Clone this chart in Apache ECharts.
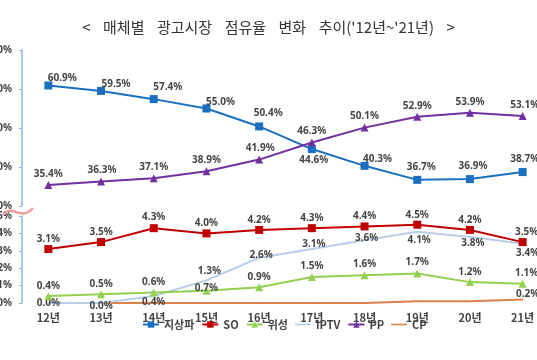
<!DOCTYPE html>
<html><head><meta charset="utf-8">
<script src="https://cdn.jsdelivr.net/npm/echarts@6/dist/echarts.min.js"></script>
<style>html,body{margin:0;padding:0;background:#fff}#c{width:537px;height:360px}</style>
</head><body><div id="c"></div>
<script>
const categories = ['12년','13년','14년','15년','16년','17년','18년','19년','20년','21년'];
const terrestrial = [60.9,59.5,57.4,55.0,50.4,44.6,40.3,36.7,36.9,38.7];
const pp = [35.4,36.3,37.1,38.9,41.9,46.3,50.1,52.9,53.9,53.1];
const so = [3.1,3.5,4.3,4.0,4.2,4.3,4.4,4.5,4.2,3.5];
const satellite = [0.4,0.5,0.6,0.7,0.9,1.5,1.6,1.7,1.2,1.1];
const iptv = [0.0,0.0,0.4,1.3,2.6,3.1,3.6,4.1,3.8,3.4];
const cp = [0.0,0.0,0.0,0.0,0.0,0.0,0.0,0.1,0.1,0.2];

// label placement (style only)
const offTerr = [[14,-7],[15,-7],[14,-12],[14,-6],[9,-13],[2,11],[13,-7],[4,-13],[3,-13],[2,-13]];
const offPP = [[0,-11],[1,-11],[0,-11],[0,-11],[1,-11],[0,-11],[0,-11],[0,-11],[0,-11],[2,-11]];
const offSO = [[0,-10],[0,-10],[0,-11],[0,-10],[0,-10],[0,-10],[0,-10],[0,-10],[0,-10],[4,-10]];
const offSat = [[0,-10],[0,-10],[0,-10],[0,-3],[0,-10],[0,-11],[0,-11],[0,-11],[0,-10],[4,-11]];
const offIptv = [[0,0],[0,3],[0,6],[3,-9],[2,-3],[2,-5],[2,-2],[2,8],[3,6],[5,9]];
const offCP = [null,null,null,null,null,null,null,null,null,[5,-5]];

const FONT = "'Noto Sans','Noto Sans CJK KR',sans-serif";
const KFONT = "'Noto Sans CJK KR','Noto Sans',sans-serif";
const labelBase = {show:true, position:'inside', fontSize:10, fontWeight:'bold', color:'#444', fontFamily:FONT,
  formatter: p => p.value.toFixed(1) + '%'};

function mk(values, offs){
  return values.map((v,i)=>{
    const o = offs[i];
    if(!o) return {value:v, label:{show:false}};
    return {value:v, label:{offset:o}};
  });
}

const chart = echarts.init(document.getElementById('c'));
const axisColor = '#8fb4de';
const SP = '\u2002\u2004';
chart.setOption({
  backgroundColor:'#fff',
  animation:false,
  title:{text:'<' + SP + '매체별' + SP + '광고시장' + SP + '점유율' + SP + '변화' + SP + "추이('12년~'21년)" + SP + '>',
    left:'center', top:15,
    textStyle:{fontSize:15, fontWeight:'normal', color:'#333', fontFamily:KFONT}},
  legend:{left:142, top:319, itemWidth:16, itemHeight:8, itemGap:7, padding:0,
    textStyle:{fontSize:11, color:'#444', fontFamily:KFONT, fontWeight:'bold'},
    data:[{name:'지상파'},{name:'SO'},{name:'위성'},
      {name:'IPTV', icon:'path://M0,0 L20,0 L20,2 L0,2 Z'},{name:'PP'},
      {name:'CP', icon:'path://M0,0 L20,0 L20,2 L0,2 Z'}]},
  grid:[{left:22, right:-12, top:50, height:156, outerBoundsMode:'none'},
        {left:22, right:-12, top:216, height:87, outerBoundsMode:'none'}],
  xAxis:[
    {type:'category', gridIndex:0, data:categories, show:false},
    {type:'category', gridIndex:1, data:categories, axisLine:{show:false}, axisTick:{show:false},
     axisLabel:{fontSize:11, color:'#444', fontWeight:'bold', fontFamily:KFONT, margin:9}}
  ],
  yAxis:[
    {type:'value', gridIndex:0, min:30, max:70, interval:10, splitLine:{show:false},
     axisLine:{show:true, lineStyle:{color:axisColor, width:1.5}}, axisTick:{show:true, length:3, lineStyle:{color:axisColor}},
     axisLabel:{formatter:'{value}%', fontSize:10, color:'#444', fontWeight:'bold', fontFamily:FONT, margin:10}},
    {type:'value', gridIndex:1, min:0, max:5, interval:1, splitLine:{show:false},
     axisLine:{show:true, lineStyle:{color:axisColor, width:1.5}}, axisTick:{show:true, length:3, lineStyle:{color:axisColor}},
     axisLabel:{formatter:'{value}%', fontSize:10, color:'#444', fontWeight:'bold', fontFamily:FONT, margin:10}}
  ],
  series:[
    {name:'지상파', type:'line', xAxisIndex:0, yAxisIndex:0, data:mk(terrestrial,offTerr), symbol:'rect', symbolSize:8,
     itemStyle:{color:'#1b6fc0'}, lineStyle:{width:2, color:'#1b6fc0'}, label:labelBase, z:5},
    {name:'SO', type:'line', xAxisIndex:1, yAxisIndex:1, data:mk(so,offSO), symbol:'rect', symbolSize:8,
     itemStyle:{color:'#c00000'}, lineStyle:{width:2, color:'#c00000'}, label:labelBase, z:5},
    {name:'위성', type:'line', xAxisIndex:1, yAxisIndex:1, data:mk(satellite,offSat), symbol:'triangle', symbolSize:8,
     itemStyle:{color:'#92d050'}, lineStyle:{width:2, color:'#92d050'}, label:labelBase, z:4},
    {name:'IPTV', type:'line', xAxisIndex:1, yAxisIndex:1, data:mk(iptv,offIptv), symbol:'circle', symbolSize:1.5,
     itemStyle:{color:'#b8cde6'}, lineStyle:{width:2, color:'#b8cde6'}, label:labelBase, z:3},
    {name:'PP', type:'line', xAxisIndex:0, yAxisIndex:0, data:mk(pp,offPP), symbol:'triangle', symbolSize:8,
     itemStyle:{color:'#7030a0'}, lineStyle:{width:2, color:'#7030a0'}, label:labelBase, z:5},
    {name:'CP', type:'line', xAxisIndex:1, yAxisIndex:1, data:mk(cp,offCP), symbol:'circle', symbolSize:1.5,
     itemStyle:{color:'#d9824a'}, lineStyle:{width:2, color:'#d9824a'}, label:labelBase, z:2}
  ],
  graphic:[
    {type:'bezierCurve', z:100, shape:{x1:3,y1:214,x2:33,y2:208,cpx1:14,cpy1:204,cpx2:20,cpy2:222},
     style:{stroke:'#ef9a9a', lineWidth:2.5, fill:null}}
  ]
});
</script></body></html>
